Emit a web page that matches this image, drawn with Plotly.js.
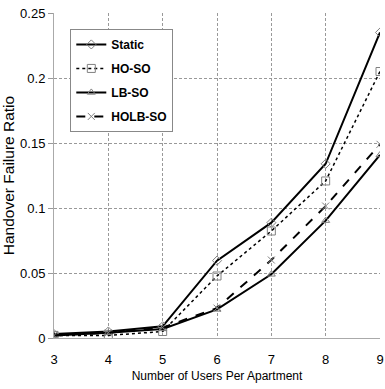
<!DOCTYPE html>
<html><head><meta charset="utf-8">
<script src="https://cdn.plot.ly/plotly-3.0.1.min.js"></script>
<style>html,body{margin:0;padding:0;background:#fff;}</style>
</head><body><div id="c" style="width:385px;height:389px;"></div>
<script>
const users = [3, 4, 5, 6, 7, 8, 9];
const staticV = [0.003, 0.005, 0.009, 0.0595, 0.0887, 0.134, 0.235];
const hoSo = [0.002, 0.002, 0.005, 0.0477, 0.0823, 0.1208, 0.205];
const lbSo = [0.002, 0.004, 0.007, 0.022, 0.049, 0.0903, 0.1408];
const holbSo = [0.002, 0.004, 0.008, 0.023, 0.06, 0.1015, 0.149];
const names = ["Static", "HO-SO", "LB-SO", "HOLB-SO"];
const yTicks = [0, 0.05, 0.1, 0.15, 0.2, 0.25];
const yTickText = ["0", "0.05", "0.1", "0.15", "0.2", "0.25"];

const FONT = "Liberation Sans, Arial, sans-serif";
const mk = (sym, sz) => ({symbol: sym, size: sz, color: "#808080", line: {color: "#808080", width: 1}});
const traces = [
  {x: users, y: staticV, name: names[0], legendgroup: "a", mode: "lines+markers", line: {color: "#000", width: 2}, marker: mk("diamond-open", 7)},
  {x: users, y: hoSo, name: names[1], legendgroup: "b", mode: "lines+markers", line: {color: "#000", width: 1.5, dash: "dot"}, marker: mk("square-open", 8)},
  {x: users, y: lbSo, name: names[2], legendgroup: "c", mode: "lines+markers", line: {color: "#000", width: 2}, marker: mk("triangle-up-open", 7)},
  {x: users, y: holbSo, name: names[3], legendgroup: "d", mode: "lines+markers", line: {color: "#000", width: 2, dash: "dash"}, marker: mk("x-thin-open", 7)}
];
const layout = {
  width: 385, height: 389,
  margin: {l: 54, r: 5, t: 13, b: 51},
  paper_bgcolor: "#fff", plot_bgcolor: "#fff",
  font: {family: FONT, size: 12, color: "#000"},
  showlegend: true,
  legend: {x: 0.05, y: 0.951, xanchor: "left", yanchor: "top", bgcolor: "#fff", bordercolor: "#888", borderwidth: 1,
    font: {family: FONT, size: 12, weight: "bold"}, traceorder: "grouped", tracegroupgap: 5, itemwidth: 30},
  xaxis: {range: [3, 9], tickvals: users, ticktext: users.map(String), showgrid: true, gridcolor: "#999", griddash: "3px,2px",
    showline: true, linecolor: "#aaa", linewidth: 1, zeroline: false, ticks: "outside", ticklen: 9, tickcolor: "rgba(0,0,0,0)",
    tickfont: {family: FONT, size: 13},
    title: {text: "Number of Users Per Apartment", font: {family: FONT, size: 12}, standoff: 6}},
  yaxis: {range: [0, 0.25], tickvals: yTicks, ticktext: yTickText,
    showgrid: true, gridcolor: "#999", griddash: "3px,2px", showline: true, linecolor: "#aaa", linewidth: 1, zeroline: false,
    ticks: "outside", ticklen: 5, tickcolor: "#999", tickfont: {family: FONT, size: 13},
    title: {text: "Handover Failure Ratio", font: {family: FONT, size: 15.5}, standoff: 7}}
};
Plotly.newPlot("c", traces, layout, {displayModeBar: false, staticPlot: true});
</script></body></html>
